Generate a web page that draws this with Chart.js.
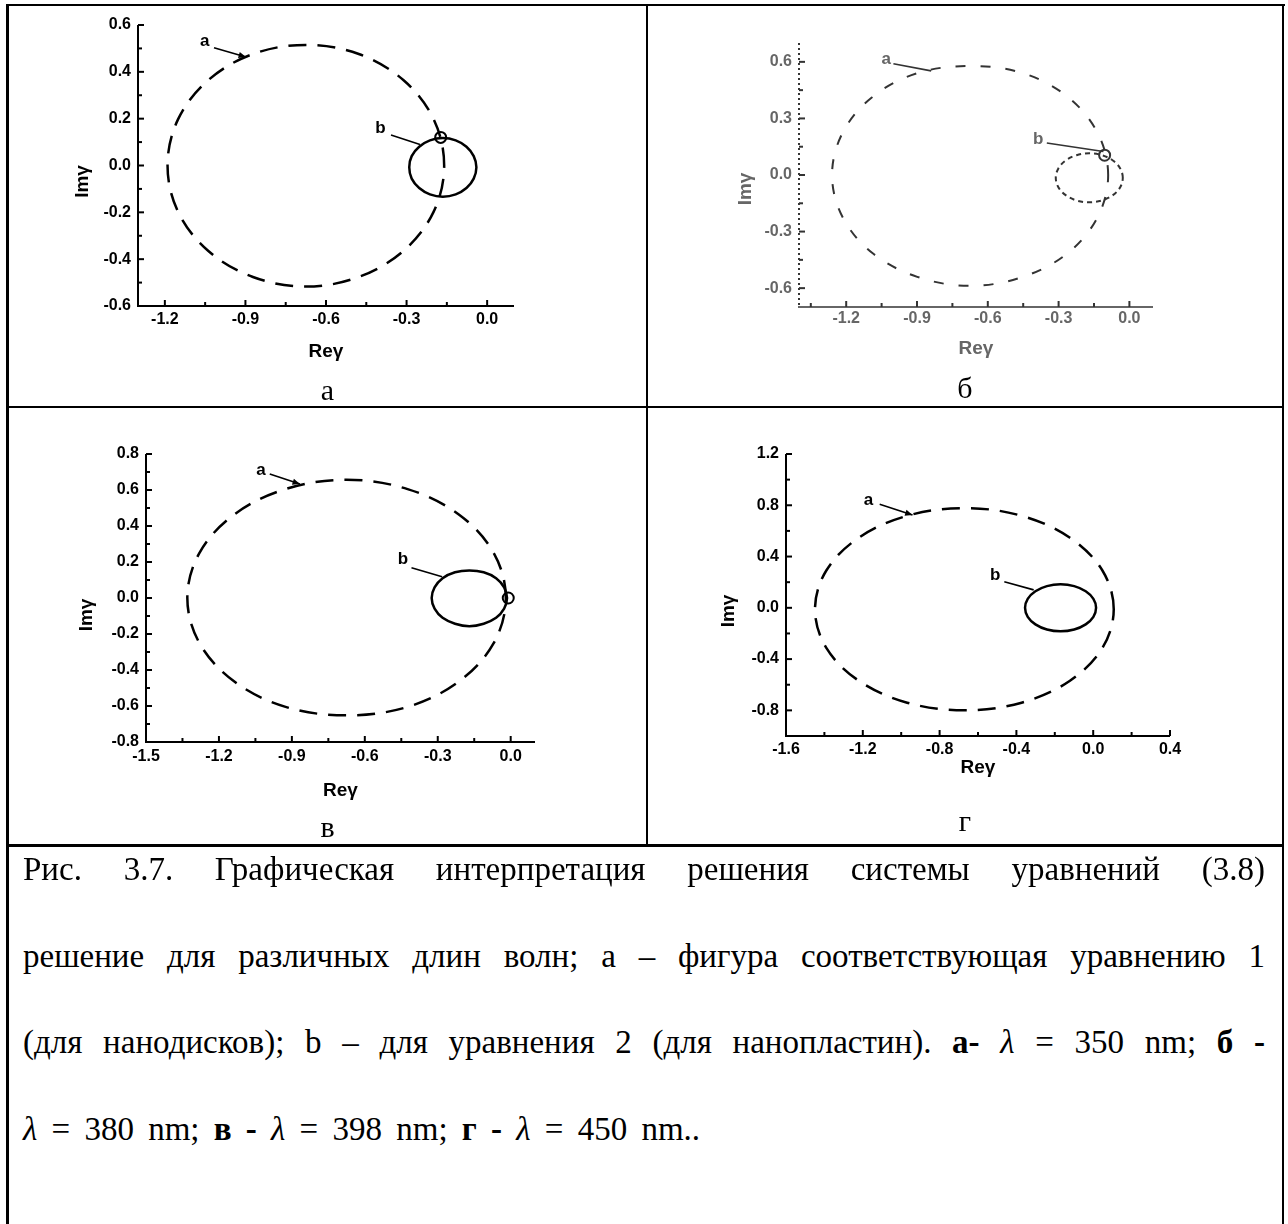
<!DOCTYPE html>
<html lang="ru">
<head>
<meta charset="utf-8">
<title>Рис. 3.7</title>
<script src="https://cdn.jsdelivr.net/npm/chart.js@4.4.1/dist/chart.umd.min.js"></script>
<style>
  html, body { margin: 0; padding: 0; background: #fff; }
  #page { position: relative; width: 1288px; height: 1224px; overflow: hidden; background: #fff; }
  .rule { position: absolute; background: #000; }
  canvas { position: absolute; }
  #p380 { filter: blur(0.5px); }
  .plabel { position: absolute; text-align: center; font-family: "Liberation Serif", "Times New Roman", serif;
            font-size: 30px; line-height: 36px; color: #000; }
  .cap { position: absolute; left: 23px; width: 1242px; font-family: "Liberation Serif", "Times New Roman", serif;
         font-size: 33px; line-height: 40px; color: #000; white-space: nowrap; }
  .just { white-space: normal; text-align: justify; text-align-last: justify; }
  .wide { word-spacing: 6px; }
  .cap i { font-style: italic; }
</style>
</head>
<body>
<div id="page">
  <!-- table rules -->
  <div class="rule" style="left:6px;top:4px;width:1279px;height:2px"></div>
  <div class="rule" style="left:6px;top:4px;width:3px;height:1220px"></div>
  <div class="rule" style="left:1282px;top:4px;width:2px;height:1220px"></div>
  <div class="rule" style="left:646px;top:4px;width:2px;height:842px"></div>
  <div class="rule" style="left:6px;top:406px;width:1278px;height:2px"></div>
  <div class="rule" style="left:6px;top:844px;width:1278px;height:3px"></div>

  <canvas id="p350" width="637" height="400" style="left:9px;top:6px"></canvas>
  <canvas id="p380" width="632" height="400" style="left:649px;top:6px"></canvas>
  <canvas id="p398" width="637" height="435" style="left:9px;top:409px"></canvas>
  <canvas id="p450" width="632" height="435" style="left:649px;top:409px"></canvas>

  <div class="plabel" style="left:9px;width:637px;top:372px">а</div>
  <div class="plabel" style="left:649px;width:632px;top:370px">б</div>
  <div class="plabel" style="left:9px;width:637px;top:809px">в</div>
  <div class="plabel" style="left:649px;width:632px;top:803px">г</div>

  <div class="cap just" style="top:849px">Рис. 3.7. Графическая интерпретация решения системы уравнений (3.8)</div>
  <div class="cap just" style="top:936px">решение для различных длин волн; а – фигура соответствующая уравнению 1</div>
  <div class="cap just" style="top:1022px">(для нанодисков); b – для уравнения 2 (для нанопластин). <b>а-</b> <i>λ</i> = 350 nm; <b>б -</b></div>
  <div class="cap wide" style="top:1109px"><i>λ</i> = 380 nm; <b>в -</b> <i>λ</i> = 398 nm; <b>г -</b> <i>λ</i> = 450 nm..</div>
</div>

<script>
// ---- λ = 350 nm: samples along curve a (dashed) and curve b (solid) ----
const reA350 = [-0.160, -0.199, -0.311, -0.478, -0.675, -0.872, -1.039, -1.151, -1.190, -1.151, -1.039, -0.872, -0.675, -0.478, -0.311, -0.199];
const imA350 = [0.000, 0.197, 0.364, 0.476, 0.515, 0.476, 0.364, 0.197, 0.000, -0.197, -0.364, -0.476, -0.517, -0.476, -0.364, -0.197];
const reB350 = [-0.040, -0.050, -0.077, -0.117, -0.165, -0.213, -0.253, -0.281, -0.290, -0.281, -0.253, -0.213, -0.165, -0.117, -0.077, -0.050];
const imB350 = [-0.008, 0.040, 0.080, 0.107, 0.117, 0.107, 0.080, 0.040, -0.008, -0.056, -0.096, -0.123, -0.133, -0.123, -0.096, -0.056];
const crossRe350 = [-0.173];
const crossIm350 = [0.120];

// ---- λ = 380 nm ----
const reA380 = [-0.090, -0.135, -0.261, -0.451, -0.675, -0.899, -1.089, -1.215, -1.260, -1.215, -1.089, -0.899, -0.675, -0.451, -0.261, -0.135];
const imA380 = [0.000, 0.224, 0.414, 0.540, 0.578, 0.540, 0.414, 0.224, 0.000, -0.224, -0.414, -0.540, -0.588, -0.540, -0.414, -0.224];
const reB380 = [-0.028, -0.039, -0.070, -0.116, -0.170, -0.224, -0.270, -0.301, -0.312, -0.301, -0.270, -0.224, -0.170, -0.116, -0.070, -0.039];
const imB380 = [-0.015, 0.035, 0.077, 0.105, 0.115, 0.105, 0.077, 0.035, -0.015, -0.065, -0.107, -0.135, -0.145, -0.135, -0.107, -0.065];
const crossRe380 = [-0.105];
const crossIm380 = [0.105];

// ---- λ = 398 nm ----
const reA398 = [-0.020, -0.070, -0.212, -0.424, -0.675, -0.926, -1.138, -1.280, -1.330, -1.280, -1.138, -0.926, -0.675, -0.424, -0.212, -0.070];
const imA398 = [0.000, 0.251, 0.463, 0.605, 0.657, 0.605, 0.463, 0.251, 0.000, -0.251, -0.463, -0.605, -0.652, -0.605, -0.463, -0.251];
const reB398 = [-0.015, -0.027, -0.060, -0.111, -0.170, -0.229, -0.280, -0.313, -0.325, -0.313, -0.280, -0.229, -0.170, -0.111, -0.060, -0.027];
const imB398 = [0.000, 0.059, 0.110, 0.143, 0.153, 0.143, 0.110, 0.059, 0.000, -0.059, -0.110, -0.143, -0.157, -0.143, -0.110, -0.059];
const crossRe398 = [-0.010];
const crossIm398 = [0.000];

// ---- λ = 450 nm ----
const reA450 = [0.107, 0.048, -0.121, -0.373, -0.671, -0.969, -1.221, -1.390, -1.449, -1.390, -1.221, -0.969, -0.671, -0.373, -0.121, 0.048];
const imA450 = [-0.011, 0.291, 0.547, 0.718, 0.778, 0.718, 0.547, 0.291, -0.011, -0.313, -0.569, -0.740, -0.800, -0.740, -0.569, -0.313];
const reB450 = [0.015, 0.001, -0.039, -0.099, -0.170, -0.241, -0.301, -0.341, -0.355, -0.341, -0.301, -0.241, -0.170, -0.099, -0.039, 0.001];
const imB450 = [0.000, 0.070, 0.129, 0.169, 0.183, 0.169, 0.129, 0.070, 0.000, -0.070, -0.129, -0.169, -0.183, -0.169, -0.129, -0.070];

// ---- axis ticks (labelled majors, unlabelled minors) ----
const xTicks350 = [-1.2, -0.9, -0.6, -0.3, 0.0];
const xMinor350 = [-1.05, -0.75, -0.45, -0.15];
const yTicks350 = [-0.6, -0.4, -0.2, 0.0, 0.2, 0.4, 0.6];
const yMinor350 = [-0.5, -0.3, -0.1, 0.1, 0.3, 0.5];

const xTicks380 = [-1.2, -0.9, -0.6, -0.3, 0.0];
const xMinor380 = [-1.35, -1.05, -0.75, -0.45, -0.15];
const yTicks380 = [-0.6, -0.3, 0.0, 0.3, 0.6];
const yMinor380 = [-0.45, -0.15, 0.15, 0.45];

const xTicks398 = [-1.5, -1.2, -0.9, -0.6, -0.3, 0.0];
const xMinor398 = [-1.35, -1.05, -0.75, -0.45, -0.15];
const yTicks398 = [-0.8, -0.6, -0.4, -0.2, 0.0, 0.2, 0.4, 0.6, 0.8];
const yMinor398 = [-0.7, -0.5, -0.3, -0.1, 0.1, 0.3, 0.5, 0.7];

const xTicks450 = [-1.6, -1.2, -0.8, -0.4, 0.0, 0.4];
const xMinor450 = [-1.4, -1.0, -0.6, -0.2, 0.2];
const yTicks450 = [-0.8, -0.4, 0.0, 0.4, 0.8, 1.2];
const yMinor450 = [-0.6, -0.2, 0.2, 0.6, 1.0];

const xTitle = 'Reγ';
const yTitle = 'Imγ';

function ring(re, im) { return re.map((v, i) => ({ x: v, y: im[i] })); }

const SANS = '"Liberation Sans", Arial, sans-serif';

// page layout of every panel: canvas box and plot rectangle (page pixels)
const panels = [
  {
    id: 'p350', box: { x: 9, y: 6, w: 637, h: 400 }, area: { l: 138, t: 25, r: 514, b: 306 },
    xRange: [-1.3, 0.1], yRange: [-0.6, 0.6],
    xMajor: xTicks350, xMinor: xMinor350, yMajor: yTicks350, yMinor: yMinor350,
    curveA: ring(reA350, imA350), curveB: ring(reB350, imB350), cross: ring(crossRe350, crossIm350),
    ink: '#000', text: '#000', dashA: [18, 11], dashB: [], widthA: 2.5, widthB: 2.5, yAxisDash: [],
    noteA: { at: [-1.052, 0.529], from: [-1.017, 0.503], to: [-0.898, 0.463] },
    noteB: { at: [-0.397, 0.160], from: [-0.358, 0.130], to: [-0.250, 0.090] },
    titleXdy: 46, titleYdx: -55, titleYdy: 16, xPad: 4
  },
  {
    id: 'p380', box: { x: 649, y: 6, w: 632, h: 400 }, area: { l: 799, t: 43, r: 1153, b: 307 },
    xRange: [-1.4, 0.1], yRange: [-0.7, 0.7],
    xMajor: xTicks380, xMinor: xMinor380, yMajor: yTicks380, yMinor: yMinor380,
    curveA: ring(reA380, imA380), curveB: ring(reB380, imB380), cross: ring(crossRe380, crossIm380),
    ink: '#333', text: '#666', dashA: [10, 15], dashB: [5, 4], widthA: 2, widthB: 2, yAxisDash: [2, 3],
    noteA: { at: [-1.030, 0.616], from: [-1.000, 0.590], to: [-0.840, 0.552] },
    noteB: { at: [-0.387, 0.191], from: [-0.350, 0.170], to: [-0.110, 0.125] },
    titleXdy: 42, titleYdx: -53, titleYdy: 14, xPad: 2
  },
  {
    id: 'p398', box: { x: 9, y: 409, w: 637, h: 435 }, area: { l: 146, t: 454, r: 535, b: 742 },
    xRange: [-1.5, 0.1], yRange: [-0.8, 0.8],
    xMajor: xTicks398, xMinor: xMinor398, yMajor: yTicks398, yMinor: yMinor398,
    curveA: ring(reA398, imA398), curveB: ring(reB398, imB398), cross: ring(crossRe398, crossIm398),
    ink: '#000', text: '#000', dashA: [18, 11], dashB: [], widthA: 2.5, widthB: 2.5, yAxisDash: [],
    noteA: { at: [-1.027, 0.711], from: [-0.991, 0.689], to: [-0.867, 0.633] },
    noteB: { at: [-0.443, 0.217], from: [-0.408, 0.168], to: [-0.282, 0.118] },
    titleXdy: 49, titleYdx: -59, titleYdy: 17, xPad: 5
  },
  {
    id: 'p450', box: { x: 649, y: 409, w: 632, h: 435 }, area: { l: 786, t: 454, r: 1170, b: 736 },
    xRange: [-1.6, 0.4], yRange: [-1.0, 1.2],
    xMajor: xTicks450, xMinor: xMinor450, yMajor: yTicks450, yMinor: yMinor450,
    curveA: ring(reA450, imA450), curveB: ring(reB450, imB450), cross: [],
    ink: '#000', text: '#000', dashA: [18, 11], dashB: [], widthA: 2.5, widthB: 2.5, yAxisDash: [],
    noteA: { at: [-1.170, 0.841], from: [-1.112, 0.808], to: [-0.941, 0.724] },
    noteB: { at: [-0.511, 0.256], from: [-0.463, 0.204], to: [-0.310, 0.140] },
    titleXdy: 32, titleYdx: -57, titleYdy: 16, xPad: 4
  }
];

// axes, inward ticks, axis titles and the "a"/"b" pointers
function decor(p) {
  return {
    id: 'decor',
    afterDatasetsUpdate(chart) {
      chart.data.datasets.forEach((ds, i) => {
        if (!ds.closed) return;
        const line = chart.getDatasetMeta(i).dataset;
        if (!line) return;
        line._loop = true;
        line._fullLoop = true;
        line._segments = undefined;
        line._pointsUpdated = false;
        line._path = undefined;
      });
    },
    afterDraw(chart) {
      const { ctx, chartArea: a } = chart;
      const xs = chart.scales.x, ys = chart.scales.y;
      const px = v => xs.getPixelForValue(v);
      const py = v => ys.getPixelForValue(v);
      ctx.save();
      ctx.strokeStyle = p.ink;
      ctx.fillStyle = p.ink;
      ctx.lineCap = 'butt';

      // axis lines
      ctx.lineWidth = 2;
      ctx.setLineDash(p.yAxisDash);
      ctx.beginPath(); ctx.moveTo(a.left, a.top); ctx.lineTo(a.left, a.bottom + 1); ctx.stroke();
      ctx.setLineDash([]);
      ctx.lineWidth = p.id === 'p380' ? 1.5 : 2;
      ctx.beginPath(); ctx.moveTo(a.left - 1, a.bottom); ctx.lineTo(a.right, a.bottom); ctx.stroke();

      // inward ticks
      ctx.lineWidth = 2;
      const tick = (x0, y0, dx, dy) => { ctx.beginPath(); ctx.moveTo(x0, y0); ctx.lineTo(x0 + dx, y0 + dy); ctx.stroke(); };
      p.xMajor.forEach(v => tick(px(v), a.bottom, 0, -6));
      p.xMinor.forEach(v => tick(px(v), a.bottom, 0, -4));
      p.yMajor.forEach(v => tick(a.left, py(v), 6, 0));
      p.yMinor.forEach(v => tick(a.left, py(v), 4, 0));

      // axis titles
      ctx.fillStyle = p.text;
      ctx.font = 'bold 19px ' + SANS;
      ctx.textAlign = 'center';
      ctx.textBaseline = 'middle';
      ctx.fillText(xTitle, (a.left + a.right) / 2, a.bottom + p.titleXdy);
      ctx.save();
      ctx.translate(a.left + p.titleYdx, (a.top + a.bottom) / 2 + p.titleYdy);
      ctx.rotate(-Math.PI / 2);
      ctx.fillText(yTitle, 0, 0);
      ctx.restore();

      // pointers to the curves
      ctx.font = 'bold 17px ' + SANS;
      ctx.fillText('a', px(p.noteA.at[0]), py(p.noteA.at[1]));
      ctx.fillText('b', px(p.noteB.at[0]), py(p.noteB.at[1]));
      ctx.strokeStyle = p.ink;
      ctx.fillStyle = p.ink;
      ctx.lineWidth = 1.6;
      const seg = (n, head) => {
        const x0 = px(n.from[0]), y0 = py(n.from[1]), x1 = px(n.to[0]), y1 = py(n.to[1]);
        ctx.beginPath(); ctx.moveTo(x0, y0); ctx.lineTo(x1, y1); ctx.stroke();
        if (head) {
          const ang = Math.atan2(y1 - y0, x1 - x0), L = 8, w = 0.4;
          ctx.beginPath();
          ctx.moveTo(x1, y1);
          ctx.lineTo(x1 - L * Math.cos(ang - w), y1 - L * Math.sin(ang - w));
          ctx.lineTo(x1 - L * Math.cos(ang + w), y1 - L * Math.sin(ang + w));
          ctx.closePath();
          ctx.fill();
        }
      };
      seg(p.noteA, p.id !== 'p380');
      seg(p.noteB, false);
      ctx.restore();
    }
  };
}

panels.forEach(p => {
  const el = document.getElementById(p.id);
  const pad = { left: 0, top: p.area.t - p.box.y, right: p.box.x + p.box.w - p.area.r, bottom: 0 };
  const yW = p.area.l - p.box.x;
  const xH = p.box.y + p.box.h - p.area.b;
  const tickFont = { family: SANS, size: 16, weight: 'bold' };

  const datasets = [
    { data: p.curveA, closed: true, borderColor: p.ink, borderWidth: p.widthA, borderDash: p.dashA,
      pointRadius: 0, tension: 0.35, fill: false },
    { data: p.curveB, closed: true, borderColor: p.ink, borderWidth: p.widthB, borderDash: p.dashB,
      pointRadius: 0, tension: 0.35, fill: false }
  ];
  if (p.cross.length) {
    datasets.push({ data: p.cross, showLine: false, pointStyle: 'circle', pointRadius: 5.5,
      pointBackgroundColor: '#fff', pointBorderColor: p.ink, pointBorderWidth: 2 });
  }

  new Chart(el, {
    type: 'line',
    data: { datasets },
    plugins: [decor(p)],
    options: {
      responsive: false,
      animation: false,
      devicePixelRatio: 1,
      events: [],
      layout: { padding: pad },
      plugins: { legend: { display: false }, tooltip: { enabled: false }, title: { display: false } },
      scales: {
        x: {
          type: 'linear', position: 'bottom', min: p.xRange[0], max: p.xRange[1],
          grid: { display: false, drawTicks: false }, border: { display: false },
          ticks: { autoSkip: false, maxRotation: 0, padding: p.xPad, color: p.text, font: tickFont,
                   callback: v => Number(v).toFixed(1) },
          afterBuildTicks: s => { s.ticks = p.xMajor.map(v => ({ value: v })); },
          afterFit: s => { s.height = xH; }
        },
        y: {
          type: 'linear', position: 'left', min: p.yRange[0], max: p.yRange[1],
          grid: { display: false, drawTicks: false }, border: { display: false },
          ticks: { autoSkip: false, padding: 7, color: p.text, font: tickFont,
                   callback: v => Number(v).toFixed(1) },
          afterBuildTicks: s => { s.ticks = p.yMajor.map(v => ({ value: v })); },
          afterFit: s => { s.width = yW; }
        }
      }
    }
  });
});
</script>
</body>
</html>
